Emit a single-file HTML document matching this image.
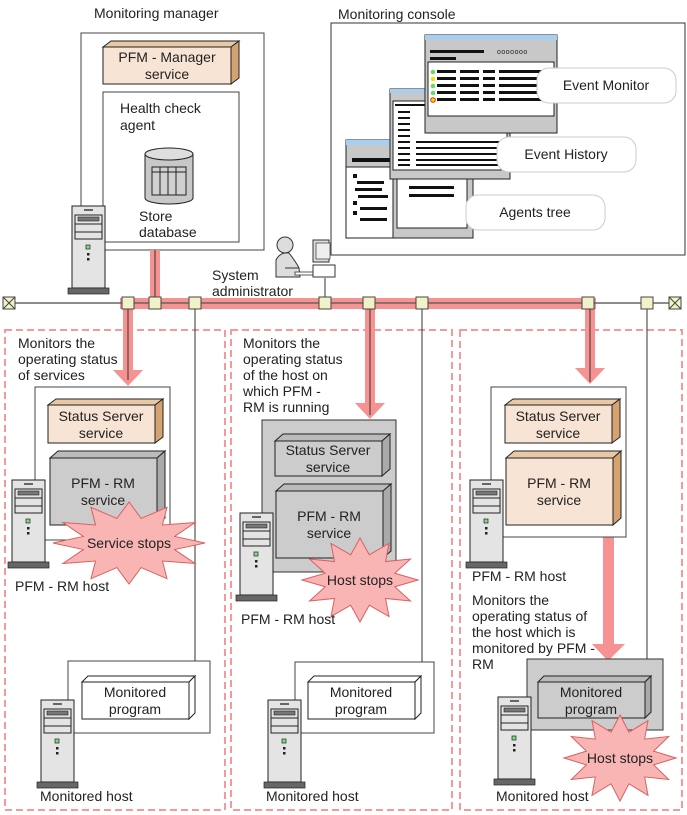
<!DOCTYPE html>
<html><head><meta charset="utf-8"><style>
html,body{margin:0;padding:0;background:#fff}
svg{display:block}
text{font-family:"Liberation Sans",sans-serif;font-size:14px;fill:#222}
</style></head><body>
<svg width="687" height="815" viewBox="0 0 687 815" xmlns="http://www.w3.org/2000/svg">
<defs>
<g id="srv">
<rect x="0" y="0" width="33" height="82" fill="#e4e4e4" stroke="#222" stroke-width="1"/>
<line x1="12" y1="4" x2="21" y2="4" stroke="#666" stroke-width="2"/>
<rect x="3" y="9" width="27" height="24" fill="#e4e4e4" stroke="#222"/>
<rect x="6" y="11" width="21" height="4" fill="#777" stroke="#222" stroke-width="0.6"/>
<line x1="3" y1="18" x2="30" y2="18" stroke="#222"/>
<line x1="3" y1="26" x2="30" y2="26" stroke="#222"/>
<rect x="14" y="39" width="4" height="4" fill="#7ce07c" stroke="#222" stroke-width="0.7"/>
<rect x="15" y="47" width="2.5" height="2.5" fill="#222"/>
<rect x="15" y="52" width="2.5" height="2.5" fill="#222"/>
<rect x="-4" y="82" width="41" height="6" fill="#666" stroke="#222" stroke-width="0.7"/>
</g>
<polygon id="star" points="100,0 60,16 87,50 44,44 50,87 16,60 0,100 -16,60 -50,87 -44,44 -87,50 -60,16 -100,0 -60,-16 -87,-50 -44,-44 -50,-87 -16,-60 0,-100 16,-60 50,-87 44,-44 87,-50 60,-16" fill="#f9b4b4" stroke="#d96060" stroke-width="1" vector-effect="non-scaling-stroke"/>
<g id="node"><rect x="-6" y="-6" width="12" height="12" fill="#f2f2c8" stroke="#444" stroke-width="1"/></g>
</defs>

<g fill="none" stroke="#f49a9a" stroke-width="2" stroke-dasharray="7,4">
<rect x="5" y="330" width="220" height="480"/>
<rect x="231" y="330" width="221" height="480"/>
<rect x="460" y="330" width="222" height="480"/>
</g>

<text x="94" y="18">Monitoring manager</text>
<text x="338" y="19">Monitoring console</text>

<rect x="81" y="33" width="183" height="217" fill="#fff" stroke="#444"/>
<polygon points="103,47 111,41 239,41 231,47" fill="#e9c8a6" stroke="#222"/>
<polygon points="231,47 239,41 239,78 231,84" fill="#d4a370" stroke="#222"/>
<rect x="103" y="47" width="128" height="37" fill="#f7e4d4" stroke="#222"/>
<text x="167" y="62" text-anchor="middle">PFM - Manager</text>
<text x="167" y="79" text-anchor="middle">service</text>
<rect x="103" y="92" width="136" height="150" fill="#fff" stroke="#444"/>
<text x="120" y="113">Health check</text>
<text x="120" y="130">agent</text>
<path d="M145,154 L145,198 A24,6 0 0 0 193,198 L193,154" fill="#c8c8c8" stroke="#222"/>
<ellipse cx="169" cy="154" rx="24" ry="6" fill="#dedede" stroke="#222"/>
<rect x="152" y="167" width="34" height="28" fill="#d0d0d0" stroke="#222"/>
<line x1="152" y1="172" x2="186" y2="172" stroke="#222"/>
<line x1="160" y1="167" x2="160" y2="195" stroke="#222"/>
<line x1="168" y1="167" x2="168" y2="195" stroke="#222"/>
<line x1="176" y1="167" x2="176" y2="195" stroke="#222"/>
<text x="139" y="221">Store</text>
<text x="139" y="237">database</text>
<use href="#srv" x="72" y="206"/>

<rect x="331" y="23" width="354" height="232" fill="#fff" stroke="#333"/>
<rect x="346" y="140" width="127" height="98" fill="#c8c8c8" stroke="#222"/>
<rect x="346" y="140" width="127" height="5" fill="#a8cff0"/>
<rect x="346" y="167" width="47" height="71" fill="#fff" stroke="#222"/>
<rect x="397" y="178" width="70" height="50" fill="#fff" stroke="#222"/>
<rect x="352" y="158" width="38" height="4" fill="#111"/>
<g fill="#111"><rect x="353" y="174" width="4" height="4"/><rect x="357" y="181" width="27" height="3"/><rect x="355" y="188" width="27" height="3"/><rect x="358" y="195" width="30" height="3"/><rect x="353" y="201" width="4" height="4"/><rect x="360" y="207" width="27" height="3"/><rect x="353" y="211" width="4" height="4"/><rect x="360" y="218" width="27" height="3"/><rect x="409" y="186" width="45" height="3"/><rect x="409" y="194" width="45" height="3"/></g>
<rect x="390" y="89" width="120" height="90" fill="#c8c8c8" stroke="#222"/>
<rect x="390" y="89" width="120" height="4" fill="#a8cff0"/>
<rect x="393" y="101" width="114" height="69" fill="#fff" stroke="#222"/>
<g fill="#111"><rect x="395" y="104" width="100" height="2"/>
<rect x="398" y="111" width="12" height="2"/><rect x="398" y="117" width="12" height="2"/><rect x="398" y="123" width="12" height="2"/><rect x="398" y="129" width="12" height="2"/><rect x="398" y="135" width="12" height="2"/><rect x="398" y="141" width="12" height="2"/><rect x="398" y="147" width="12" height="2"/><rect x="398" y="153" width="12" height="2"/><rect x="398" y="159" width="12" height="2"/><rect x="398" y="164" width="12" height="2"/>
<rect x="416" y="141" width="90" height="2"/><rect x="416" y="147" width="90" height="2"/><rect x="416" y="153" width="90" height="2"/><rect x="416" y="159" width="90" height="2"/><rect x="416" y="164" width="90" height="2"/></g>
<rect x="425" y="35" width="132" height="98" fill="#c8c8c8" stroke="#222"/>
<rect x="425" y="35" width="132" height="5" fill="#a8cff0"/>
<rect x="428" y="62" width="126" height="54" fill="#fff" stroke="#222"/>
<rect x="430" y="50" width="54" height="3" fill="#111"/>
<rect x="430" y="57" width="26" height="3" fill="#111"/>
<text x="497" y="54" style="font-size:7px;letter-spacing:0.5px">ooooooo</text>
<g fill="#111">
<rect x="437" y="70" width="19" height="3"/><rect x="460" y="70" width="19" height="3"/><rect x="483" y="70" width="12" height="3"/><rect x="499" y="70" width="45" height="3"/>
<rect x="437" y="77" width="19" height="3"/><rect x="460" y="77" width="19" height="3"/><rect x="483" y="77" width="12" height="3"/><rect x="499" y="77" width="45" height="3"/>
<rect x="437" y="84" width="19" height="3"/><rect x="460" y="84" width="19" height="3"/><rect x="483" y="84" width="12" height="3"/><rect x="499" y="84" width="45" height="3"/>
<rect x="437" y="91" width="19" height="3"/><rect x="460" y="91" width="19" height="3"/><rect x="483" y="91" width="12" height="3"/><rect x="499" y="91" width="45" height="3"/>
<rect x="437" y="98" width="19" height="3"/><rect x="460" y="98" width="19" height="3"/><rect x="483" y="98" width="12" height="3"/><rect x="499" y="98" width="45" height="3"/></g>
<circle cx="433" cy="72" r="2.3" fill="#6cd66c"/><circle cx="433" cy="79" r="2.3" fill="#f5e000"/><circle cx="433" cy="86" r="2.3" fill="#6cd66c"/><circle cx="433" cy="93" r="2.3" fill="#6cd66c"/><circle cx="433" cy="100" r="2.3" fill="#f5e000" stroke="#e03000"/>
<rect x="537" y="68" width="139" height="35" rx="12" fill="#fff" stroke="#ccc"/>
<text x="606" y="90" text-anchor="middle">Event Monitor</text>
<rect x="497" y="137" width="139" height="35" rx="12" fill="#fff" stroke="#ccc"/>
<text x="566" y="159" text-anchor="middle">Event History</text>
<rect x="466" y="195" width="139" height="35" rx="12" fill="#fff" stroke="#ccc"/>
<text x="535" y="217" text-anchor="middle">Agents tree</text>

<circle cx="285" cy="245" r="8" fill="#ddd" stroke="#333"/>
<path d="M276,277 L276,260 Q280,252 289,253 Q296,262 299,268 L300,277 Z" fill="#ddd" stroke="#333"/>
<path d="M285,268 L299,268" stroke="#333"/>
<rect x="295" y="272" width="20" height="3" fill="#fff" stroke="#333" stroke-width="0.8"/>
<rect x="313" y="240" width="16" height="22" fill="#ddd" stroke="#333"/>
<rect x="316" y="243" width="14" height="16" fill="#eee" stroke="#333" stroke-width="0.7"/>
<rect x="313" y="265" width="22" height="12" fill="#fff" stroke="#333"/>
<text x="212" y="280">System</text>
<text x="212" y="296">administrator</text>

<rect x="150" y="250" width="10" height="53" fill="#f79292"/>
<rect x="120" y="298" width="476" height="11" fill="#f79292"/>
<g fill="#f79292">
<rect x="123" y="303" width="10" height="68"/><polygon points="113,370 143,370 128,386"/>
<rect x="365" y="303" width="10" height="101"/><polygon points="355,403 385,403 370,419"/>
<rect x="585" y="303" width="10" height="66"/><polygon points="575,368 605,368 590,384"/>
<rect x="603" y="537" width="11" height="108"/><polygon points="592,644 625,644 608,661"/>
</g>
<line x1="8" y1="303" x2="680" y2="303" stroke="#666" stroke-width="1.5"/>
<g stroke="#333" stroke-width="1">
<line x1="155" y1="250" x2="155" y2="303"/>
<line x1="325" y1="278" x2="325" y2="303"/>
<line x1="128" y1="303" x2="128" y2="380"/>
<line x1="370" y1="303" x2="370" y2="415"/>
<line x1="590" y1="303" x2="590" y2="382"/>
<line x1="195" y1="303" x2="195" y2="661"/>
<line x1="422" y1="303" x2="422" y2="662"/>
<line x1="647" y1="303" x2="647" y2="659"/>
</g>
<use href="#node" x="128" y="303"/><use href="#node" x="155" y="303"/><use href="#node" x="195" y="303"/><use href="#node" x="325" y="303"/><use href="#node" x="369" y="303"/><use href="#node" x="422" y="303"/><use href="#node" x="588" y="303"/><use href="#node" x="647" y="303"/>
<g><rect x="3" y="297" width="12" height="12" fill="#f2f2c8" stroke="#444"/><path d="M3,297 L15,309 M15,297 L3,309" stroke="#444"/>
<rect x="669" y="297" width="12" height="12" fill="#f2f2c8" stroke="#444"/><path d="M669,297 L681,309 M681,297 L669,309" stroke="#444"/></g>

<text x="18" y="348">Monitors the</text>
<text x="18" y="364">operating status</text>
<text x="18" y="380">of services</text>
<rect x="35" y="387" width="135" height="153" fill="#fff" stroke="#444"/>
<polygon points="48,405 56,399 163,399 155,405" fill="#e9c8a6" stroke="#222"/>
<polygon points="155,405 163,399 163,437 155,443" fill="#d4a370" stroke="#222"/>
<rect x="48" y="405" width="107" height="38" fill="#f7e4d4" stroke="#222"/>
<text x="101" y="421" text-anchor="middle">Status Server</text>
<text x="101" y="438" text-anchor="middle">service</text>
<polygon points="50,458 58,451 165,451 157,458" fill="#bbb" stroke="#222"/>
<polygon points="157,458 165,451 165,518 157,525" fill="#aaa" stroke="#222"/>
<rect x="50" y="458" width="107" height="67" fill="#ccc" stroke="#222"/>
<text x="103" y="488" text-anchor="middle">PFM - RM</text>
<text x="103" y="505" text-anchor="middle">service</text>
<use href="#star" transform="translate(129,543) scale(0.76,0.41)"/>
<text x="129" y="548" text-anchor="middle">Service stops</text>
<use href="#srv" x="12" y="480"/>
<text x="15" y="591">PFM - RM host</text>
<rect x="68" y="661" width="142" height="72" fill="#fff" stroke="#444"/>
<polygon points="82,682 88,676 195,676 189,682" fill="#fff" stroke="#222"/>
<polygon points="189,682 195,676 195,713 189,719" fill="#fff" stroke="#222"/>
<rect x="82" y="682" width="107" height="37" fill="#fff" stroke="#222"/>
<text x="135" y="697" text-anchor="middle">Monitored</text>
<text x="135" y="714" text-anchor="middle">program</text>
<use href="#srv" x="41" y="700"/>
<text x="40" y="801">Monitored host</text>

<text x="243" y="348">Monitors the</text>
<text x="243" y="364">operating status</text>
<text x="243" y="380">of the host on</text>
<text x="243" y="396">which PFM -</text>
<text x="243" y="412">RM is running</text>
<rect x="262" y="420" width="134" height="152" fill="#ccc" stroke="#333"/>
<polygon points="275,441 283,434 390,434 382,441" fill="#bbb" stroke="#222"/>
<polygon points="382,441 390,434 390,469 382,476" fill="#aaa" stroke="#222"/>
<rect x="275" y="441" width="107" height="35" fill="#ccc" stroke="#222"/>
<text x="328" y="455" text-anchor="middle">Status Server</text>
<text x="328" y="472" text-anchor="middle">service</text>
<polygon points="276,491 284,484 391,484 383,491" fill="#bbb" stroke="#222"/>
<polygon points="383,491 391,484 391,551 383,558" fill="#aaa" stroke="#222"/>
<rect x="276" y="491" width="107" height="67" fill="#ccc" stroke="#222"/>
<text x="329" y="521" text-anchor="middle">PFM - RM</text>
<text x="329" y="538" text-anchor="middle">service</text>
<use href="#star" transform="translate(360,580) scale(0.58,0.42)"/>
<text x="360" y="585" text-anchor="middle">Host stops</text>
<use href="#srv" x="240" y="513"/>
<text x="241" y="624">PFM - RM host</text>
<rect x="295" y="662" width="139" height="71" fill="#fff" stroke="#444"/>
<polygon points="308,682 314,676 421,676 415,682" fill="#fff" stroke="#222"/>
<polygon points="415,682 421,676 421,713 415,719" fill="#fff" stroke="#222"/>
<rect x="308" y="682" width="107" height="37" fill="#fff" stroke="#222"/>
<text x="361" y="697" text-anchor="middle">Monitored</text>
<text x="361" y="714" text-anchor="middle">program</text>
<use href="#srv" x="268" y="700"/>
<text x="266" y="801">Monitored host</text>

<rect x="491" y="387" width="135" height="150" fill="#fff" stroke="#444"/>
<polygon points="505,405 513,399 620,399 612,405" fill="#e9c8a6" stroke="#222"/>
<polygon points="612,405 620,399 620,437 612,443" fill="#d4a370" stroke="#222"/>
<rect x="505" y="405" width="107" height="38" fill="#f7e4d4" stroke="#222"/>
<text x="558" y="421" text-anchor="middle">Status Server</text>
<text x="558" y="438" text-anchor="middle">service</text>
<polygon points="506,458 514,451 621,451 613,458" fill="#e9c8a6" stroke="#222"/>
<polygon points="613,458 621,451 621,518 613,525" fill="#d4a370" stroke="#222"/>
<rect x="506" y="458" width="107" height="67" fill="#f7e4d4" stroke="#222"/>
<text x="559" y="488" text-anchor="middle">PFM - RM</text>
<text x="559" y="505" text-anchor="middle">service</text>
<use href="#srv" x="470" y="480"/>
<text x="472" y="581">PFM - RM host</text>
<text x="472" y="605">Monitors the</text>
<text x="472" y="621">operating status of</text>
<text x="472" y="637">the host which is</text>
<text x="472" y="653">monitored by PFM -</text>
<text x="472" y="669">RM</text>
<rect x="527" y="659" width="136" height="71" fill="#ccc" stroke="#333"/>
<polygon points="538,682 544,676 651,676 645,682" fill="#bbb" stroke="#222"/>
<polygon points="645,682 651,676 651,712 645,718" fill="#aaa" stroke="#222"/>
<rect x="538" y="682" width="107" height="36" fill="#ccc" stroke="#222"/>
<text x="591" y="697" text-anchor="middle">Monitored</text>
<text x="591" y="714" text-anchor="middle">program</text>
<use href="#star" transform="translate(620,758) scale(0.56,0.43)"/>
<text x="620" y="763" text-anchor="middle">Host stops</text>
<use href="#srv" x="498" y="697"/>
<text x="496" y="801">Monitored host</text>
</svg>
</body></html>
